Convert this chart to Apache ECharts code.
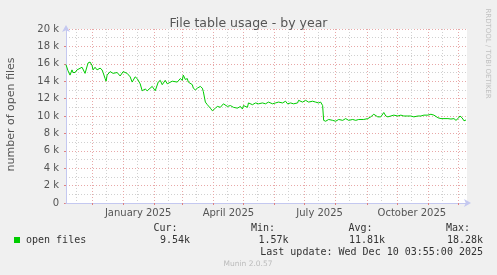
<!DOCTYPE html>
<html>
<head>
<meta charset="utf-8">
<script src="https://cdn.jsdelivr.net/npm/echarts@6/dist/echarts.min.js"></script>
<style>
html,body{margin:0;padding:0;background:#f0f0f0;}
#chart{width:497px;height:275px;}
</style>
</head>
<body>
<div id="chart"></div>
<script>
// ---- data ----
const startDay = '2024-11-05';
const endDay = '2025-12-10';
const monthNames = ['January','February','March','April','May','June','July','August','September','October','November','December'];
const yTicks = [0, 2000, 4000, 6000, 8000, 10000, 12000, 14000, 16000, 18000, 20000];

const dates = [
'2024-11-05','2024-11-06','2024-11-07','2024-11-09','2024-11-11','2024-11-12','2024-11-14','2024-11-16','2024-11-17','2024-11-21',
'2024-11-22','2024-11-24','2024-11-27','2024-11-29','2024-12-01','2024-12-02','2024-12-04','2024-12-06','2024-12-07','2024-12-09',
'2024-12-11','2024-12-12','2024-12-14','2024-12-15','2024-12-16','2024-12-19','2024-12-22','2024-12-26','2024-12-29','2025-01-01',
'2025-01-05','2025-01-06','2025-01-08','2025-01-10','2025-01-13','2025-01-15','2025-01-18','2025-01-20','2025-01-23','2025-01-25',
'2025-01-26','2025-01-30','2025-01-31','2025-02-02','2025-02-05','2025-02-07','2025-02-09','2025-02-12','2025-02-14','2025-02-15',
'2025-02-19','2025-02-20','2025-02-24','2025-02-27','2025-03-01','2025-03-02','2025-03-04','2025-03-06','2025-03-07','2025-03-11',
'2025-03-12','2025-03-14','2025-03-16','2025-03-17','2025-03-19','2025-03-21','2025-03-22','2025-03-24','2025-03-26','2025-03-27',
'2025-03-29','2025-03-31','2025-04-01','2025-04-03','2025-04-05','2025-04-08','2025-04-11','2025-04-15','2025-04-18','2025-04-21',
'2025-04-25','2025-04-28','2025-04-30','2025-05-01','2025-05-05','2025-05-06','2025-05-10','2025-05-13','2025-05-16','2025-05-20',
'2025-05-23','2025-05-26','2025-05-30','2025-06-02','2025-06-05','2025-06-09','2025-06-12','2025-06-14','2025-06-17','2025-06-20',
'2025-06-24','2025-06-25','2025-06-29','2025-07-02','2025-07-05','2025-07-09','2025-07-12','2025-07-15','2025-07-17','2025-07-19',
'2025-07-20','2025-07-22','2025-07-25','2025-07-29','2025-08-01','2025-08-04','2025-08-08','2025-08-11','2025-08-14','2025-08-18',
'2025-08-21','2025-08-24','2025-08-29','2025-09-02','2025-09-05','2025-09-08','2025-09-12','2025-09-13','2025-09-15','2025-09-18',
'2025-09-20','2025-09-22','2025-09-25','2025-09-28','2025-10-02','2025-10-05','2025-10-08','2025-10-12','2025-10-15','2025-10-18',
'2025-10-22','2025-10-25','2025-10-28','2025-11-01','2025-11-04','2025-11-07','2025-11-11','2025-11-14','2025-11-17','2025-11-21',
'2025-11-24','2025-11-27','2025-11-29','2025-12-01','2025-12-03','2025-12-05','2025-12-07','2025-12-09'
];
const openFiles = [
15900,16000,15200,14700,15300,15000,15000,15300,15100,15600,
15800,14900,16100,16200,15800,15300,15600,15300,15100,15500,
15300,15000,14300,14000,14700,15100,14900,15000,14600,15100,
14900,15100,14500,13900,14500,14300,13700,12900,13100,12900,
12800,13400,13600,12900,13900,14100,13600,14100,13700,13500,
14000,13800,13900,14300,14100,14700,14200,14300,13900,13600,
13200,13000,13200,13400,13400,13200,12800,11600,11300,11100,
10900,10600,10800,10900,11100,11000,11400,11100,11200,11000,
10900,11100,10800,11200,11000,11500,11300,11500,11400,11500,
11400,11600,11400,11500,11600,11500,11700,11400,11500,11400,
11500,11800,11600,11800,11600,11700,11600,11500,11600,11200,
9500,9400,9600,9500,9400,9600,9500,9700,9500,9600,
9500,9600,9600,9700,9900,10200,9900,10000,9900,10400,
10000,9900,10000,10100,10000,10100,10000,10000,10000,9900,
10000,10000,10100,10100,10200,10100,9800,9700,9700,9700,
9650,9700,9500,9700,10000,9800,9450,9540
];

const legendName = 'open files';
const statLabels = ['Cur:', 'Min:', 'Avg:', 'Max:'];
const statValues = ['9.54k', '1.57k', '11.81k', '18.28k'];
const lastUpdate = 'Last update: Wed Dec 10 03:55:00 2025';

// ---- daily category axis ----
function fmt(d){
  const m = d.getUTCMonth()+1, day = d.getUTCDate();
  return d.getUTCFullYear()+'-'+(m<10?'0':'')+m+'-'+(day<10?'0':'')+day;
}
const days = [];
for (let t = Date.parse(startDay+'T00:00:00Z'); t <= Date.parse(endDay+'T00:00:00Z'); t += 86400000) {
  days.push(fmt(new Date(t)));
}
const isMonthStart = (i, v) => v.slice(8) === '01';
const isMidMonth = (i, v) => v.slice(8) === '15';
const isLabelDay = (i, v) => v.slice(8) === '16' && ['01','04','07','10'].includes(v.slice(5,7));

const GREEN = '#00cc00';
const TXT = '#555';
const MONO = 'DejaVu Sans Mono';

const chart = echarts.init(document.getElementById('chart'), null, {renderer:'canvas'});

const graphics = [
  {type:'text', left:5, top:114.5, rotation:Math.PI/2, style:{text:'number of open files', font:'11px "DejaVu Sans"', fill:TXT, textAlign:'center', textVerticalAlign:'middle'}, x:11, y:114.5, position:[11,114.5]},
  {type:'text', position:[488,53.5], rotation:-Math.PI/2, style:{text:'RRDTOOL / TOBI OETIKER', font:'7px "DejaVu Sans"', fill:'#c0c0c0', textAlign:'center', textVerticalAlign:'middle'}},
  {type:'rect', shape:{x:14, y:237, width:6, height:6}, style:{fill:GREEN}},
  {type:'text', position:[26,240], style:{text:legendName, font:'10px "'+MONO+'"', fill:'#333', textVerticalAlign:'middle'}},
  {type:'text', position:[248,264], style:{text:'Munin 2.0.57', font:'7.5px "DejaVu Sans"', fill:'#bbb', textAlign:'center', textVerticalAlign:'middle'}},
  {type:'text', position:[483,252], style:{text:lastUpdate, font:'10px "'+MONO+'"', fill:'#333', textAlign:'right', textVerticalAlign:'middle'}}
];
const labelRight = [177.5, 275, 372.5, 470];
const valueRight = [190, 288.5, 385, 483];
statLabels.forEach((s, i) => {
  graphics.push({type:'text', position:[labelRight[i],228.3], style:{text:s, font:'10px "'+MONO+'"', fill:'#333', textAlign:'right', textVerticalAlign:'middle'}});
  graphics.push({type:'text', position:[valueRight[i],240], style:{text:statValues[i], font:'10px "'+MONO+'"', fill:'#333', textAlign:'right', textVerticalAlign:'middle'}});
});
graphics.forEach(g => { delete g.left; delete g.top; if (g.position) { g.x = g.position[0]; g.y = g.position[1]; delete g.position; } });

chart.setOption({
  animation:false,
  backgroundColor:'#f0f0f0',
  title:{
    text:'File table usage - by year', left:'center', top:12,
    textStyle:{fontFamily:'DejaVu Sans', fontSize:12.5, fontWeight:'normal', color:TXT}
  },
  grid:{left:66, right:30, top:29, bottom:72, show:true, backgroundColor:'#ffffff', borderWidth:0},
  xAxis:[
    {
      type:'category', data:days, boundaryGap:false,
      axisLine:{show:true, lineStyle:{color:'#c4c8f0', width:1}, symbol:['none','arrow'], symbolSize:[6,7], symbolOffset:[0,4]},
      axisTick:{show:true, interval:isMonthStart, length:2, lineStyle:{color:'#e08080'}},
      axisLabel:{interval:isLabelDay, margin:5, color:TXT, fontFamily:'DejaVu Sans', fontSize:10,
        formatter:(v) => monthNames[parseInt(v.slice(5,7),10)-1] + ' ' + v.slice(0,4)},
      splitLine:{show:true, interval:isMonthStart, lineStyle:{color:'#e8a8a8', type:[1,2], width:1}},
      z:3
    },
    {
      type:'category', data:days, boundaryGap:false, position:'bottom',
      axisLine:{show:false}, axisTick:{show:false}, axisLabel:{show:false},
      splitLine:{show:true, interval:isMidMonth, lineStyle:{color:'#d0d0d0', type:[1,2], width:1}}
    }
  ],
  yAxis:{
    type:'value', min:yTicks[0], max:yTicks[yTicks.length-1], interval:2000,
    axisLine:{show:true, lineStyle:{color:'#c4c8f0', width:1}, symbol:['none','arrow'], symbolSize:[6,7], symbolOffset:[0,4]},
    axisTick:{show:true, length:2, lineStyle:{color:'#e08080'}},
    axisLabel:{margin:7, color:TXT, fontFamily:'DejaVu Sans', fontSize:10,
      formatter:(v) => v === 0 ? '0' : (v/1000) + ' k'},
    splitLine:{show:true, lineStyle:{color:'#e8a8a8', type:[1,2], width:1}},
    minorTick:{show:false, splitNumber:2},
    minorSplitLine:{show:true, lineStyle:{color:'#d0d0d0', type:[1,2], width:1}}
  },
  series:[{
    type:'line', name:legendName, xAxisIndex:0,
    data:dates.map((d, i) => [d, openFiles[i]]),
    showSymbol:false, symbol:'none',
    lineStyle:{color:GREEN, width:1}, itemStyle:{color:GREEN},
    z:5
  }],
  graphic:graphics
});
</script>
</body>
</html>
